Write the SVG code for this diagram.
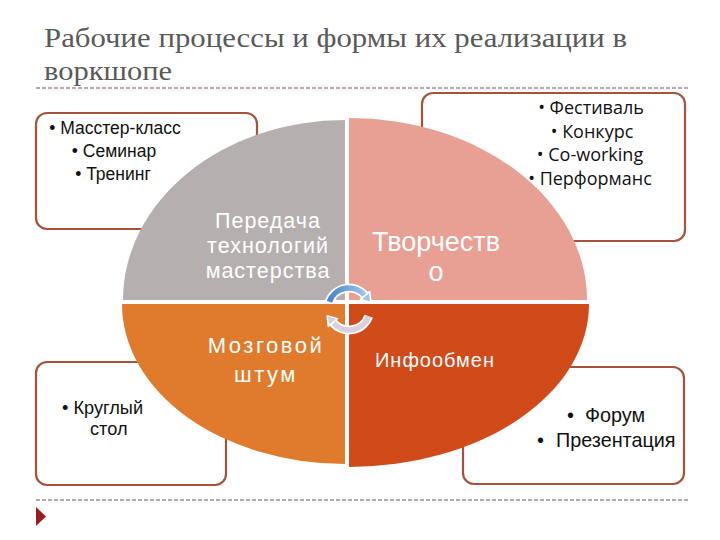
<svg xmlns="http://www.w3.org/2000/svg" width="720" height="540" viewBox="0 0 720 540">
<style>
.title{font-family:"Liberation Serif","DejaVu Serif",serif;font-size:28px;fill:#5a5a5a}
.box{fill:#ffffff;stroke:#a5533a;stroke-width:2.2}
.bt{font-family:"Liberation Sans",Arial,sans-serif;font-size:17.5px;fill:#111}
.bt2{font-family:"Open Sans","Liberation Sans",sans-serif;font-size:18px;fill:#111}
.seg{font-family:"Liberation Sans",Arial,sans-serif;fill:#ffffff;text-anchor:middle}
.dash{stroke:#6e5656;stroke-width:1;stroke-dasharray:4 2;fill:none}
</style>
<rect width="720" height="540" fill="#ffffff"/>
<g id="title">
<text class="title" x="44" y="47" textLength="583" lengthAdjust="spacingAndGlyphs">Рабочие процессы и формы их реализации в</text>
<text class="title" x="44" y="80" textLength="128" lengthAdjust="spacingAndGlyphs">воркшопе</text>
</g>
<line class="dash" x1="36" y1="88" x2="688" y2="88"/>
<line class="dash" x1="36" y1="500" x2="688" y2="500"/>
<polygon points="36,507 46,516.5 36,526" fill="#9b1c1c"/>

<g id="box-tl">
<rect class="box" x="36" y="113" width="221" height="116" rx="11"/>
<text class="bt" x="115" y="134" text-anchor="middle">• Масстер-класс</text>
<text class="bt" x="114" y="157" text-anchor="middle">• Семинар</text>
<text class="bt" x="113" y="180" text-anchor="middle">• Тренинг</text>
</g>
<g id="box-tr">
<rect class="box" x="422" y="93" width="263" height="148" rx="11"/>
<text class="bt2" x="591" y="114" text-anchor="middle">• Фестиваль</text>
<text class="bt2" x="592" y="138" text-anchor="middle">• Конкурс</text>
<text class="bt2" x="590" y="161" text-anchor="middle">• Co-working</text>
<text class="bt2" x="590" y="185" text-anchor="middle">• Перформанс</text>
</g>
<g id="box-bl">
<rect class="box" x="36" y="362" width="190" height="123" rx="11"/>
<text class="bt" x="62" y="414" style="font-size:18.2px">• Круглый</text>
<text class="bt" x="90" y="435" style="font-size:18.2px">стол</text>
</g>
<g id="box-br">
<rect class="box" x="463" y="367" width="221" height="117" rx="11"/>
<text class="bt" style="font-size:19.8px"><tspan x="567" y="422">•</tspan><tspan x="585" y="422">Форум</tspan></text>
<text class="bt" style="font-size:19.8px"><tspan x="537" y="447">•</tspan><tspan x="556" y="447">Презентация</tspan></text>
</g>

<g id="seg-tl">
<path d="M345,300 L123,300 A222,180 0 0 1 345,120 Z" fill="#b6afaf"/>
<text class="seg" font-size="21.5" letter-spacing="1"><tspan x="268" y="228">Передача</tspan><tspan x="268" y="253">технологий</tspan><tspan x="268" y="278">мастерства</tspan></text>
</g>
<g id="seg-tr">
<path d="M349,300 L349,118 A238,182 0 0 1 587,300 Z" fill="#e9a094"/>
<text class="seg" font-size="27"><tspan x="436" y="251">Творчеств</tspan><tspan x="436" y="281">о</tspan></text>
</g>
<g id="seg-bl">
<path d="M345,304 L122,304 A223,160 0 0 0 345,464 Z" fill="#e07b2d"/>
<text class="seg" font-size="22" letter-spacing="2.5"><tspan x="266" y="353">Мозговой</tspan><tspan x="266" y="382">штум</tspan></text>
</g>
<g id="seg-br">
<path d="M349,304 L589,304 A240,163 0 0 1 349,467 Z" fill="#d14a1a"/>
<text class="seg" font-size="20" letter-spacing="1"><tspan x="435" y="367">Инфообмен</tspan></text>
</g>

<defs>
<linearGradient id="blue" x1="0" y1="0" x2="1" y2="0">
<stop offset="0" stop-color="#4a86c8"/>
<stop offset="1" stop-color="#9cc6ec"/>
</linearGradient>
</defs>
<g id="connectors">
<path d="M329.3,301.8 A21,21 0 0 1 365.1,295.5" fill="none" stroke="#ffffff" stroke-width="9"/>
<path d="M329.3,301.8 A21,21 0 0 1 365.1,295.5" fill="none" stroke="url(#blue)" stroke-width="5.5"/>
<polygon points="369.7,291.6 360.5,299.4 370.9,302.4" fill="#9cc6ec" stroke="#ffffff" stroke-width="1.5" stroke-linejoin="round"/>
<path d="M368.7,316.2 A21,21 0 0 1 332.9,322.5" fill="none" stroke="#ffffff" stroke-width="9"/>
<path d="M368.7,316.2 A21,21 0 0 1 332.9,322.5" fill="none" stroke="#d8d0dc" stroke-width="5.5"/>
<polygon points="328.3,326.4 337.5,318.6 327.1,315.6" fill="#d8d0dc" stroke="#ffffff" stroke-width="1.5" stroke-linejoin="round"/>
</g>
</svg>
